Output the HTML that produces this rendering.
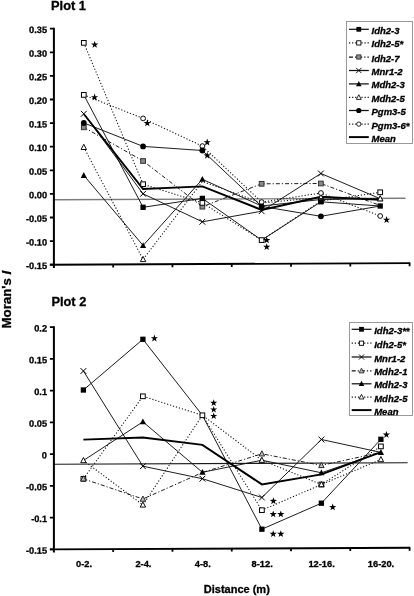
<!DOCTYPE html>
<html><head><meta charset="utf-8"><title>Moran's I</title>
<style>
html,body{margin:0;padding:0;background:#fff;}
body{width:414px;height:596px;overflow:hidden;font-family:"Liberation Sans",sans-serif;}
svg{display:block;will-change:transform;filter:blur(0.3px);}
text{font-family:"Liberation Sans",sans-serif;font-weight:bold;fill:#000;stroke:#000;stroke-width:0.3px;paint-order:stroke;}
.ttl{font-size:12.85px;}
.yl{font-size:13.3px;}
.xl{font-size:11px;}
.xt{font-size:9.3px;}
.yt{font-size:9.2px;}
.lg{font-size:9.5px;font-style:italic;}
</style></head><body>
<svg width="414" height="596" viewBox="0 0 414 596">
<rect width="414" height="596" fill="#fff"/>
<text x="51.0" y="10.1" class="ttl">Plot 1</text>
<text x="51.4" y="306" class="ttl">Plot 2</text>
<text transform="translate(10.6,299.6) rotate(-90)" text-anchor="middle" class="yl">Moran's <tspan font-style="italic">I</tspan></text>
<text x="236.8" y="593" text-anchor="middle" class="xl">Distance (m)</text>
<text x="84.00" y="567.2" text-anchor="middle" class="xt">0-2.</text>
<text x="143.40" y="567.2" text-anchor="middle" class="xt">2-4.</text>
<text x="202.80" y="567.2" text-anchor="middle" class="xt">4-8.</text>
<text x="262.20" y="567.2" text-anchor="middle" class="xt">8-12.</text>
<text x="321.60" y="567.2" text-anchor="middle" class="xt">12-16.</text>
<text x="381.00" y="567.2" text-anchor="middle" class="xt">16-20.</text>
<g transform="translate(0,0.235) skewY(-0.25)">
<line x1="53.9" y1="199.80" x2="405.5" y2="199.80" stroke="#7c7c7c" stroke-width="1.35"/>
<line x1="53.90" y1="27.80" x2="53.90" y2="267.90" stroke="#000" stroke-width="2"/>
<line x1="49.90" y1="264.70" x2="410.30" y2="264.70" stroke="#000" stroke-width="1.9"/>
<line x1="49.90" y1="28.70" x2="53.90" y2="28.70" stroke="#000" stroke-width="1.8"/>
<text x="47.00" y="33.00" text-anchor="end" class="yt">0.35</text>
<line x1="49.90" y1="52.30" x2="53.90" y2="52.30" stroke="#000" stroke-width="1.8"/>
<text x="47.00" y="56.60" text-anchor="end" class="yt">0.30</text>
<line x1="49.90" y1="75.90" x2="53.90" y2="75.90" stroke="#000" stroke-width="1.8"/>
<text x="47.00" y="80.20" text-anchor="end" class="yt">0.25</text>
<line x1="49.90" y1="99.50" x2="53.90" y2="99.50" stroke="#000" stroke-width="1.8"/>
<text x="47.00" y="103.80" text-anchor="end" class="yt">0.20</text>
<line x1="49.90" y1="123.10" x2="53.90" y2="123.10" stroke="#000" stroke-width="1.8"/>
<text x="47.00" y="127.40" text-anchor="end" class="yt">0.15</text>
<line x1="49.90" y1="146.70" x2="53.90" y2="146.70" stroke="#000" stroke-width="1.8"/>
<text x="47.00" y="151.00" text-anchor="end" class="yt">0.10</text>
<line x1="49.90" y1="170.30" x2="53.90" y2="170.30" stroke="#000" stroke-width="1.8"/>
<text x="47.00" y="174.60" text-anchor="end" class="yt">0.05</text>
<line x1="49.90" y1="193.90" x2="53.90" y2="193.90" stroke="#000" stroke-width="1.8"/>
<text x="47.00" y="198.20" text-anchor="end" class="yt">0.00</text>
<line x1="49.90" y1="217.50" x2="53.90" y2="217.50" stroke="#000" stroke-width="1.8"/>
<text x="47.00" y="221.80" text-anchor="end" class="yt">-0.05</text>
<line x1="49.90" y1="241.10" x2="53.90" y2="241.10" stroke="#000" stroke-width="1.8"/>
<text x="47.00" y="245.40" text-anchor="end" class="yt">-0.10</text>
<line x1="49.90" y1="264.70" x2="53.90" y2="264.70" stroke="#000" stroke-width="1.8"/>
<text x="47.00" y="269.00" text-anchor="end" class="yt">-0.15</text>
<line x1="113.18" y1="264.70" x2="113.18" y2="267.70" stroke="#000" stroke-width="1.8"/>
<line x1="172.46" y1="264.70" x2="172.46" y2="267.70" stroke="#000" stroke-width="1.8"/>
<line x1="231.74" y1="264.70" x2="231.74" y2="267.70" stroke="#000" stroke-width="1.8"/>
<line x1="291.02" y1="264.70" x2="291.02" y2="267.70" stroke="#000" stroke-width="1.8"/>
<line x1="350.30" y1="264.70" x2="350.30" y2="267.70" stroke="#000" stroke-width="1.8"/>
<line x1="409.58" y1="264.70" x2="409.58" y2="267.70" stroke="#000" stroke-width="1.8"/>
</g>
<polyline points="83.80,94.90 143.08,207.30 202.36,198.40 261.64,240.10 320.92,201.80 380.20,206.00" fill="none" stroke="#111" stroke-width="0.95"/>
<polyline points="83.80,42.85 143.08,184.20 202.36,202.90 261.64,240.10 320.92,201.00 380.20,192.30" fill="none" stroke="#111" stroke-width="1.05" stroke-dasharray="1.2 1.9"/>
<polyline points="83.80,127.30 143.08,161.00 202.36,206.70 261.64,183.80 320.92,183.50 380.20,205.50" fill="none" stroke="#111" stroke-width="0.95" stroke-dasharray="4 2 1.2 2"/>
<polyline points="83.80,113.80 143.08,193.80 202.36,221.80 261.64,211.20 320.92,173.50 380.20,198.70" fill="none" stroke="#111" stroke-width="0.95"/>
<polyline points="83.80,175.40 143.08,245.50 202.36,179.30 261.64,206.00 320.92,199.50 380.20,198.70" fill="none" stroke="#111" stroke-width="0.95"/>
<polyline points="83.80,147.30 143.08,259.40 202.36,181.50 261.64,203.00 320.92,197.40 380.20,198.70" fill="none" stroke="#111" stroke-width="1.05" stroke-dasharray="1.2 1.9"/>
<polyline points="83.80,122.90 143.08,146.40 202.36,150.50 261.64,206.40 320.92,216.30 380.20,206.00" fill="none" stroke="#111" stroke-width="0.95"/>
<polyline points="83.80,94.90 143.08,118.40 202.36,146.10 261.64,202.10 320.92,193.00 380.20,216.00" fill="none" stroke="#111" stroke-width="1.05" stroke-dasharray="1.2 1.9"/>
<polyline points="83.80,114.00 143.08,189.00 202.36,186.40 261.64,209.90 320.92,196.70 380.20,199.90" fill="none" stroke="#000" stroke-width="1.95" stroke-linejoin="miter"/>
<polygon points="83.80,172.10 86.90,177.90 80.70,177.90" fill="#000"/>
<polygon points="143.08,242.20 146.18,248.00 139.98,248.00" fill="#000"/>
<polygon points="202.36,176.00 205.46,181.80 199.26,181.80" fill="#000"/>
<polygon points="380.20,195.40 383.30,201.20 377.10,201.20" fill="#000"/>
<polygon points="83.80,144.30 86.50,149.50 81.10,149.50" fill="#fff" stroke="#000" stroke-width="0.95"/>
<polygon points="143.08,256.40 145.78,261.60 140.38,261.60" fill="#fff" stroke="#000" stroke-width="0.95"/>
<polygon points="320.92,194.40 323.62,199.60 318.22,199.60" fill="#fff" stroke="#000" stroke-width="0.95"/>
<polygon points="380.20,195.70 382.90,200.90 377.50,200.90" fill="#fff" stroke="#000" stroke-width="0.95"/>
<path d="M80.90 110.90 L86.70 116.70 M80.90 116.70 L86.70 110.90" stroke="#000" stroke-width="1" fill="none"/>
<path d="M140.18 190.90 L145.98 196.70 M140.18 196.70 L145.98 190.90" stroke="#000" stroke-width="1" fill="none"/>
<path d="M199.46 218.90 L205.26 224.70 M199.46 224.70 L205.26 218.90" stroke="#000" stroke-width="1" fill="none"/>
<path d="M258.74 208.30 L264.54 214.10 M258.74 214.10 L264.54 208.30" stroke="#000" stroke-width="1" fill="none"/>
<path d="M318.02 170.60 L323.82 176.40 M318.02 176.40 L323.82 170.60" stroke="#000" stroke-width="1" fill="none"/>
<rect x="81.45" y="124.95" width="4.7" height="4.7" fill="#8a8a8a" stroke="#333" stroke-width="1"/>
<rect x="140.73" y="158.65" width="4.7" height="4.7" fill="#8a8a8a" stroke="#333" stroke-width="1"/>
<rect x="200.01" y="204.35" width="4.7" height="4.7" fill="#8a8a8a" stroke="#333" stroke-width="1"/>
<rect x="259.29" y="181.45" width="4.7" height="4.7" fill="#8a8a8a" stroke="#333" stroke-width="1"/>
<rect x="318.57" y="181.15" width="4.7" height="4.7" fill="#8a8a8a" stroke="#333" stroke-width="1"/>
<rect x="81.45" y="40.50" width="4.7" height="4.7" fill="#fff" stroke="#000" stroke-width="1"/>
<rect x="140.73" y="181.85" width="4.7" height="4.7" fill="#fff" stroke="#000" stroke-width="1"/>
<rect x="200.01" y="200.55" width="4.7" height="4.7" fill="#fff" stroke="#000" stroke-width="1"/>
<rect x="259.29" y="237.75" width="4.7" height="4.7" fill="#fff" stroke="#000" stroke-width="1"/>
<rect x="318.57" y="198.65" width="4.7" height="4.7" fill="#fff" stroke="#000" stroke-width="1"/>
<rect x="377.85" y="189.95" width="4.7" height="4.7" fill="#fff" stroke="#000" stroke-width="1"/>
<circle cx="143.08" cy="118.40" r="2.4" fill="#fff" stroke="#000" stroke-width="0.95"/>
<circle cx="202.36" cy="146.10" r="2.4" fill="#fff" stroke="#000" stroke-width="0.95"/>
<circle cx="261.64" cy="202.10" r="2.4" fill="#fff" stroke="#000" stroke-width="0.95"/>
<circle cx="320.92" cy="193.00" r="2.4" fill="#fff" stroke="#000" stroke-width="0.95"/>
<circle cx="380.20" cy="216.00" r="2.4" fill="#fff" stroke="#000" stroke-width="0.95"/>
<circle cx="83.80" cy="122.90" r="2.9" fill="#000"/>
<circle cx="143.08" cy="146.40" r="2.9" fill="#000"/>
<circle cx="202.36" cy="150.50" r="2.9" fill="#000"/>
<circle cx="261.64" cy="206.40" r="2.9" fill="#000"/>
<circle cx="320.92" cy="216.30" r="2.9" fill="#000"/>
<rect x="81.45" y="92.55" width="4.7" height="4.7" fill="#fff" stroke="#000" stroke-width="1"/>
<rect x="140.43" y="204.65" width="5.3" height="5.3" fill="#000"/>
<rect x="199.71" y="195.75" width="5.3" height="5.3" fill="#000"/>
<rect x="318.27" y="199.15" width="5.3" height="5.3" fill="#000"/>
<rect x="377.55" y="203.35" width="5.3" height="5.3" fill="#000"/>
<polygon points="94.70,40.90 95.59,43.47 98.31,43.53 96.15,45.17 96.93,47.77 94.70,46.22 92.47,47.77 93.25,45.17 91.09,43.53 93.81,43.47" fill="#000"/>
<polygon points="94.60,93.60 95.49,96.17 98.21,96.23 96.05,97.87 96.83,100.47 94.60,98.92 92.37,100.47 93.15,97.87 90.99,96.23 93.71,96.17" fill="#000"/>
<polygon points="147.30,119.40 148.19,121.97 150.91,122.03 148.75,123.67 149.53,126.27 147.30,124.72 145.07,126.27 145.85,123.67 143.69,122.03 146.41,121.97" fill="#000"/>
<polygon points="207.20,138.60 208.09,141.17 210.81,141.23 208.65,142.87 209.43,145.47 207.20,143.92 204.97,145.47 205.75,142.87 203.59,141.23 206.31,141.17" fill="#000"/>
<polygon points="207.20,151.80 208.09,154.37 210.81,154.43 208.65,156.07 209.43,158.67 207.20,157.12 204.97,158.67 205.75,156.07 203.59,154.43 206.31,154.37" fill="#000"/>
<polygon points="266.70,236.40 267.59,238.97 270.31,239.03 268.15,240.67 268.93,243.27 266.70,241.72 264.47,243.27 265.25,240.67 263.09,239.03 265.81,238.97" fill="#000"/>
<polygon points="266.70,243.20 267.59,245.77 270.31,245.83 268.15,247.47 268.93,250.07 266.70,248.52 264.47,250.07 265.25,247.47 263.09,245.83 265.81,245.77" fill="#000"/>
<polygon points="386.60,216.10 387.49,218.67 390.21,218.73 388.05,220.37 388.83,222.97 386.60,221.42 384.37,222.97 385.15,220.37 382.99,218.73 385.71,218.67" fill="#000"/>
<g transform="translate(0,0.235) skewY(-0.25)">
<line x1="53.9" y1="464.25" x2="407.6" y2="464.25" stroke="#1a1a1a" stroke-width="1.05"/>
<line x1="53.90" y1="326.18" x2="53.90" y2="552.57" stroke="#000" stroke-width="2"/>
<line x1="49.90" y1="549.37" x2="410.30" y2="549.37" stroke="#000" stroke-width="1.9"/>
<line x1="49.90" y1="327.08" x2="53.90" y2="327.08" stroke="#000" stroke-width="1.8"/>
<text x="47.00" y="331.38" text-anchor="end" class="yt">0.2</text>
<line x1="49.90" y1="358.84" x2="53.90" y2="358.84" stroke="#000" stroke-width="1.8"/>
<text x="47.00" y="363.14" text-anchor="end" class="yt">0.15</text>
<line x1="49.90" y1="390.59" x2="53.90" y2="390.59" stroke="#000" stroke-width="1.8"/>
<text x="47.00" y="394.89" text-anchor="end" class="yt">0.1</text>
<line x1="49.90" y1="422.35" x2="53.90" y2="422.35" stroke="#000" stroke-width="1.8"/>
<text x="47.00" y="426.65" text-anchor="end" class="yt">0.05</text>
<line x1="49.90" y1="454.10" x2="53.90" y2="454.10" stroke="#000" stroke-width="1.8"/>
<text x="47.00" y="458.40" text-anchor="end" class="yt">0</text>
<line x1="49.90" y1="485.86" x2="53.90" y2="485.86" stroke="#000" stroke-width="1.8"/>
<text x="47.00" y="490.16" text-anchor="end" class="yt">-0.05</text>
<line x1="49.90" y1="517.61" x2="53.90" y2="517.61" stroke="#000" stroke-width="1.8"/>
<text x="47.00" y="521.91" text-anchor="end" class="yt">-0.1</text>
<line x1="49.90" y1="549.37" x2="53.90" y2="549.37" stroke="#000" stroke-width="1.8"/>
<text x="47.00" y="553.66" text-anchor="end" class="yt">-0.15</text>
<line x1="113.18" y1="549.37" x2="113.18" y2="552.37" stroke="#000" stroke-width="1.8"/>
<line x1="172.46" y1="549.37" x2="172.46" y2="552.37" stroke="#000" stroke-width="1.8"/>
<line x1="231.74" y1="549.37" x2="231.74" y2="552.37" stroke="#000" stroke-width="1.8"/>
<line x1="291.02" y1="549.37" x2="291.02" y2="552.37" stroke="#000" stroke-width="1.8"/>
<line x1="350.30" y1="549.37" x2="350.30" y2="552.37" stroke="#000" stroke-width="1.8"/>
<line x1="409.58" y1="549.37" x2="409.58" y2="552.37" stroke="#000" stroke-width="1.8"/>
</g>
<polyline points="83.40,390.00 142.90,339.30 202.40,415.30 261.90,529.20 321.40,503.20 380.90,439.30" fill="none" stroke="#111" stroke-width="0.95"/>
<polyline points="83.40,478.80 142.90,396.30 202.40,415.30 261.90,510.20 321.40,484.50 380.90,446.40" fill="none" stroke="#111" stroke-width="1.05" stroke-dasharray="1.2 1.9"/>
<polyline points="83.40,371.00 142.90,466.20 202.40,478.70 261.90,497.50 321.40,439.50 380.90,452.40" fill="none" stroke="#111" stroke-width="0.95"/>
<polyline points="83.40,478.80 142.90,499.00 202.40,472.50 261.90,453.80 321.40,465.40 380.90,452.40" fill="none" stroke="#111" stroke-width="0.95" stroke-dasharray="4 2 1.2 2"/>
<polyline points="83.40,460.50 142.90,421.80 202.40,472.30 261.90,460.20 321.40,472.80 380.90,452.40" fill="none" stroke="#111" stroke-width="0.95"/>
<polyline points="83.40,460.50 142.90,504.90 202.40,415.30 261.90,460.20 321.40,484.50 380.90,459.50" fill="none" stroke="#111" stroke-width="1.05" stroke-dasharray="1.2 1.9"/>
<polyline points="83.40,439.60 142.90,437.60 202.40,444.90 261.90,484.40 321.40,474.40 380.90,452.20" fill="none" stroke="#000" stroke-width="1.95" stroke-linejoin="miter"/>
<path d="M80.50 368.10 L86.30 373.90 M80.50 373.90 L86.30 368.10" stroke="#000" stroke-width="1" fill="none"/>
<path d="M140.00 463.30 L145.80 469.10 M140.00 469.10 L145.80 463.30" stroke="#000" stroke-width="1" fill="none"/>
<path d="M199.50 475.80 L205.30 481.60 M199.50 481.60 L205.30 475.80" stroke="#000" stroke-width="1" fill="none"/>
<path d="M259.00 494.60 L264.80 500.40 M259.00 500.40 L264.80 494.60" stroke="#000" stroke-width="1" fill="none"/>
<path d="M318.50 436.60 L324.30 442.40 M318.50 442.40 L324.30 436.60" stroke="#000" stroke-width="1" fill="none"/>
<polygon points="142.90,418.50 146.00,424.30 139.80,424.30" fill="#000"/>
<polygon points="202.40,469.00 205.50,474.80 199.30,474.80" fill="#000"/>
<polygon points="321.40,469.50 324.50,475.30 318.30,475.30" fill="#000"/>
<polygon points="380.90,449.10 384.00,454.90 377.80,454.90" fill="#000"/>
<rect x="81.05" y="476.45" width="4.7" height="4.7" fill="#fff" stroke="#000" stroke-width="1"/>
<rect x="140.55" y="393.95" width="4.7" height="4.7" fill="#fff" stroke="#000" stroke-width="1"/>
<rect x="200.05" y="412.95" width="4.7" height="4.7" fill="#fff" stroke="#000" stroke-width="1"/>
<rect x="259.55" y="507.85" width="4.7" height="4.7" fill="#fff" stroke="#000" stroke-width="1"/>
<rect x="319.05" y="482.15" width="4.7" height="4.7" fill="#fff" stroke="#000" stroke-width="1"/>
<rect x="378.55" y="444.05" width="4.7" height="4.7" fill="#fff" stroke="#000" stroke-width="1"/>
<polygon points="83.40,475.80 86.10,481.00 80.70,481.00" fill="#bbb" stroke="#222" stroke-width="0.95"/>
<polygon points="142.90,496.00 145.60,501.20 140.20,501.20" fill="#bbb" stroke="#222" stroke-width="0.95"/>
<polygon points="261.90,450.80 264.60,456.00 259.20,456.00" fill="#bbb" stroke="#222" stroke-width="0.95"/>
<polygon points="321.40,462.40 324.10,467.60 318.70,467.60" fill="#bbb" stroke="#222" stroke-width="0.95"/>
<polygon points="83.40,457.50 86.10,462.70 80.70,462.70" fill="#fff" stroke="#000" stroke-width="0.95"/>
<polygon points="142.90,501.90 145.60,507.10 140.20,507.10" fill="#fff" stroke="#000" stroke-width="0.95"/>
<polygon points="261.90,457.20 264.60,462.40 259.20,462.40" fill="#fff" stroke="#000" stroke-width="0.95"/>
<polygon points="321.40,481.50 324.10,486.70 318.70,486.70" fill="#fff" stroke="#000" stroke-width="0.95"/>
<polygon points="380.90,456.50 383.60,461.70 378.20,461.70" fill="#fff" stroke="#000" stroke-width="0.95"/>
<rect x="80.75" y="387.35" width="5.3" height="5.3" fill="#000"/>
<rect x="140.25" y="336.65" width="5.3" height="5.3" fill="#000"/>
<rect x="259.25" y="526.55" width="5.3" height="5.3" fill="#000"/>
<rect x="318.75" y="500.55" width="5.3" height="5.3" fill="#000"/>
<rect x="378.25" y="436.65" width="5.3" height="5.3" fill="#000"/>
<polygon points="154.40,334.60 155.29,337.17 158.01,337.23 155.85,338.87 156.63,341.47 154.40,339.92 152.17,341.47 152.95,338.87 150.79,337.23 153.51,337.17" fill="#000"/>
<polygon points="213.70,399.30 214.57,401.80 217.22,401.86 215.11,403.46 215.87,405.99 213.70,404.48 211.53,405.99 212.29,403.46 210.18,401.86 212.83,401.80" fill="#000"/>
<polygon points="213.70,405.90 214.57,408.40 217.22,408.46 215.11,410.06 215.87,412.59 213.70,411.08 211.53,412.59 212.29,410.06 210.18,408.46 212.83,408.40" fill="#000"/>
<polygon points="213.70,412.40 214.57,414.90 217.22,414.96 215.11,416.56 215.87,419.09 213.70,417.58 211.53,419.09 212.29,416.56 210.18,414.96 212.83,414.90" fill="#000"/>
<polygon points="273.40,497.30 274.29,499.87 277.01,499.93 274.85,501.57 275.63,504.17 273.40,502.62 271.17,504.17 271.95,501.57 269.79,499.93 272.51,499.87" fill="#000"/>
<polygon points="273.20,510.40 274.09,512.97 276.81,513.03 274.65,514.67 275.43,517.27 273.20,515.72 270.97,517.27 271.75,514.67 269.59,513.03 272.31,512.97" fill="#000"/>
<polygon points="280.80,510.40 281.69,512.97 284.41,513.03 282.25,514.67 283.03,517.27 280.80,515.72 278.57,517.27 279.35,514.67 277.19,513.03 279.91,512.97" fill="#000"/>
<polygon points="273.20,530.20 274.09,532.77 276.81,532.83 274.65,534.47 275.43,537.07 273.20,535.52 270.97,537.07 271.75,534.47 269.59,532.83 272.31,532.77" fill="#000"/>
<polygon points="280.80,530.20 281.69,532.77 284.41,532.83 282.25,534.47 283.03,537.07 280.80,535.52 278.57,537.07 279.35,534.47 277.19,532.83 279.91,532.77" fill="#000"/>
<polygon points="332.70,503.50 333.59,506.07 336.31,506.13 334.15,507.77 334.93,510.37 332.70,508.82 330.47,510.37 331.25,507.77 329.09,506.13 331.81,506.07" fill="#000"/>
<polygon points="386.40,430.90 387.29,433.47 390.01,433.53 387.85,435.17 388.63,437.77 386.40,436.22 384.17,437.77 384.95,435.17 382.79,433.53 385.51,433.47" fill="#000"/>
<rect x="346.5" y="21.5" width="66.0" height="122.0" fill="#fff" stroke="#999" stroke-width="1"/>
<line x1="349.0" y1="29.30" x2="368.8" y2="29.30" stroke="#111" stroke-width="1.25"/>
<g transform="translate(358.80,29.30) scale(0.9) translate(-358.80,-29.30)"><rect x="356.15" y="26.65" width="5.3" height="5.3" fill="#000"/></g>
<text x="371.5" y="33.80" class="lg">Idh2-3</text>
<line x1="349.0" y1="42.90" x2="368.8" y2="42.90" stroke="#111" stroke-width="1.25" stroke-dasharray="1.2 1.9"/>
<g transform="translate(358.80,42.90) scale(0.9) translate(-358.80,-42.90)"><rect x="356.45" y="40.55" width="4.7" height="4.7" fill="#fff" stroke="#000" stroke-width="1"/></g>
<text x="371.5" y="47.40" class="lg">Idh2-5*</text>
<line x1="349.0" y1="57.00" x2="368.8" y2="57.00" stroke="#111" stroke-width="1.25" stroke-dasharray="4 2 1.2 2"/>
<g transform="translate(358.80,57.00) scale(0.9) translate(-358.80,-57.00)"><rect x="356.45" y="54.65" width="4.7" height="4.7" fill="#8a8a8a" stroke="#333" stroke-width="1"/></g>
<text x="371.5" y="61.50" class="lg">Idh2-7</text>
<line x1="349.0" y1="70.50" x2="368.8" y2="70.50" stroke="#111" stroke-width="1.25"/>
<g transform="translate(358.80,70.50) scale(0.9) translate(-358.80,-70.50)"><path d="M355.90 67.60 L361.70 73.40 M355.90 73.40 L361.70 67.60" stroke="#000" stroke-width="1" fill="none"/></g>
<text x="371.5" y="75.00" class="lg">Mnr1-2</text>
<line x1="349.0" y1="83.90" x2="368.8" y2="83.90" stroke="#111" stroke-width="1.25"/>
<g transform="translate(358.80,83.90) scale(0.9) translate(-358.80,-83.90)"><polygon points="358.80,80.60 361.90,86.40 355.70,86.40" fill="#000"/></g>
<text x="371.5" y="88.40" class="lg">Mdh2-3</text>
<line x1="349.0" y1="97.40" x2="368.8" y2="97.40" stroke="#111" stroke-width="1.25" stroke-dasharray="1.2 1.9"/>
<g transform="translate(358.80,97.40) scale(0.9) translate(-358.80,-97.40)"><polygon points="358.80,94.40 361.50,99.60 356.10,99.60" fill="#fff" stroke="#000" stroke-width="0.95"/></g>
<text x="371.5" y="101.90" class="lg">Mdh2-5</text>
<line x1="349.0" y1="110.50" x2="368.8" y2="110.50" stroke="#111" stroke-width="1.25"/>
<g transform="translate(358.80,110.50) scale(0.9) translate(-358.80,-110.50)"><circle cx="358.80" cy="110.50" r="2.9" fill="#000"/></g>
<text x="371.5" y="115.00" class="lg">Pgm3-5</text>
<line x1="349.0" y1="124.10" x2="368.8" y2="124.10" stroke="#111" stroke-width="1.25" stroke-dasharray="1.2 1.9"/>
<g transform="translate(358.80,124.10) scale(0.9) translate(-358.80,-124.10)"><circle cx="358.80" cy="124.10" r="2.4" fill="#fff" stroke="#000" stroke-width="0.95"/></g>
<text x="371.5" y="128.60" class="lg">Pgm3-6*</text>
<line x1="349.0" y1="137.10" x2="368.8" y2="137.10" stroke="#000" stroke-width="1.95" stroke-linejoin="miter"/>
<text x="371.5" y="141.60" class="lg">Mean</text>
<rect x="349.5" y="322.5" width="63.0" height="93.0" fill="#fff" stroke="#999" stroke-width="1"/>
<line x1="351.7" y1="329.30" x2="371.5" y2="329.30" stroke="#111" stroke-width="1.25"/>
<g transform="translate(361.50,329.30) scale(0.9) translate(-361.50,-329.30)"><rect x="358.85" y="326.65" width="5.3" height="5.3" fill="#000"/></g>
<text x="374.2" y="333.80" class="lg">Idh2-3**</text>
<line x1="351.7" y1="343.20" x2="371.5" y2="343.20" stroke="#111" stroke-width="1.25" stroke-dasharray="1.2 1.9"/>
<g transform="translate(361.50,343.20) scale(0.9) translate(-361.50,-343.20)"><rect x="359.15" y="340.85" width="4.7" height="4.7" fill="#fff" stroke="#000" stroke-width="1"/></g>
<text x="374.2" y="347.70" class="lg">Idh2-5*</text>
<line x1="351.7" y1="357.00" x2="371.5" y2="357.00" stroke="#111" stroke-width="1.25"/>
<g transform="translate(361.50,357.00) scale(0.9) translate(-361.50,-357.00)"><path d="M358.60 354.10 L364.40 359.90 M358.60 359.90 L364.40 354.10" stroke="#000" stroke-width="1" fill="none"/></g>
<text x="374.2" y="361.50" class="lg">Mnr1-2</text>
<line x1="351.7" y1="370.90" x2="371.5" y2="370.90" stroke="#111" stroke-width="1.25" stroke-dasharray="4 2 1.2 2"/>
<g transform="translate(361.50,370.90) scale(0.9) translate(-361.50,-370.90)"><polygon points="361.50,367.90 364.20,373.10 358.80,373.10" fill="#bbb" stroke="#222" stroke-width="0.95"/></g>
<text x="374.2" y="375.40" class="lg">Mdh2-1</text>
<line x1="351.7" y1="383.80" x2="371.5" y2="383.80" stroke="#111" stroke-width="1.25"/>
<g transform="translate(361.50,383.80) scale(0.9) translate(-361.50,-383.80)"><polygon points="361.50,380.50 364.60,386.30 358.40,386.30" fill="#000"/></g>
<text x="374.2" y="388.30" class="lg">Mdh2-3</text>
<line x1="351.7" y1="397.00" x2="371.5" y2="397.00" stroke="#111" stroke-width="1.25" stroke-dasharray="1.2 1.9"/>
<g transform="translate(361.50,397.00) scale(0.9) translate(-361.50,-397.00)"><polygon points="361.50,394.00 364.20,399.20 358.80,399.20" fill="#fff" stroke="#000" stroke-width="0.95"/></g>
<text x="374.2" y="401.50" class="lg">Mdh2-5</text>
<line x1="351.7" y1="410.10" x2="371.5" y2="410.10" stroke="#000" stroke-width="1.95" stroke-linejoin="miter"/>
<text x="374.2" y="414.60" class="lg">Mean</text>
</svg>
</body></html>
